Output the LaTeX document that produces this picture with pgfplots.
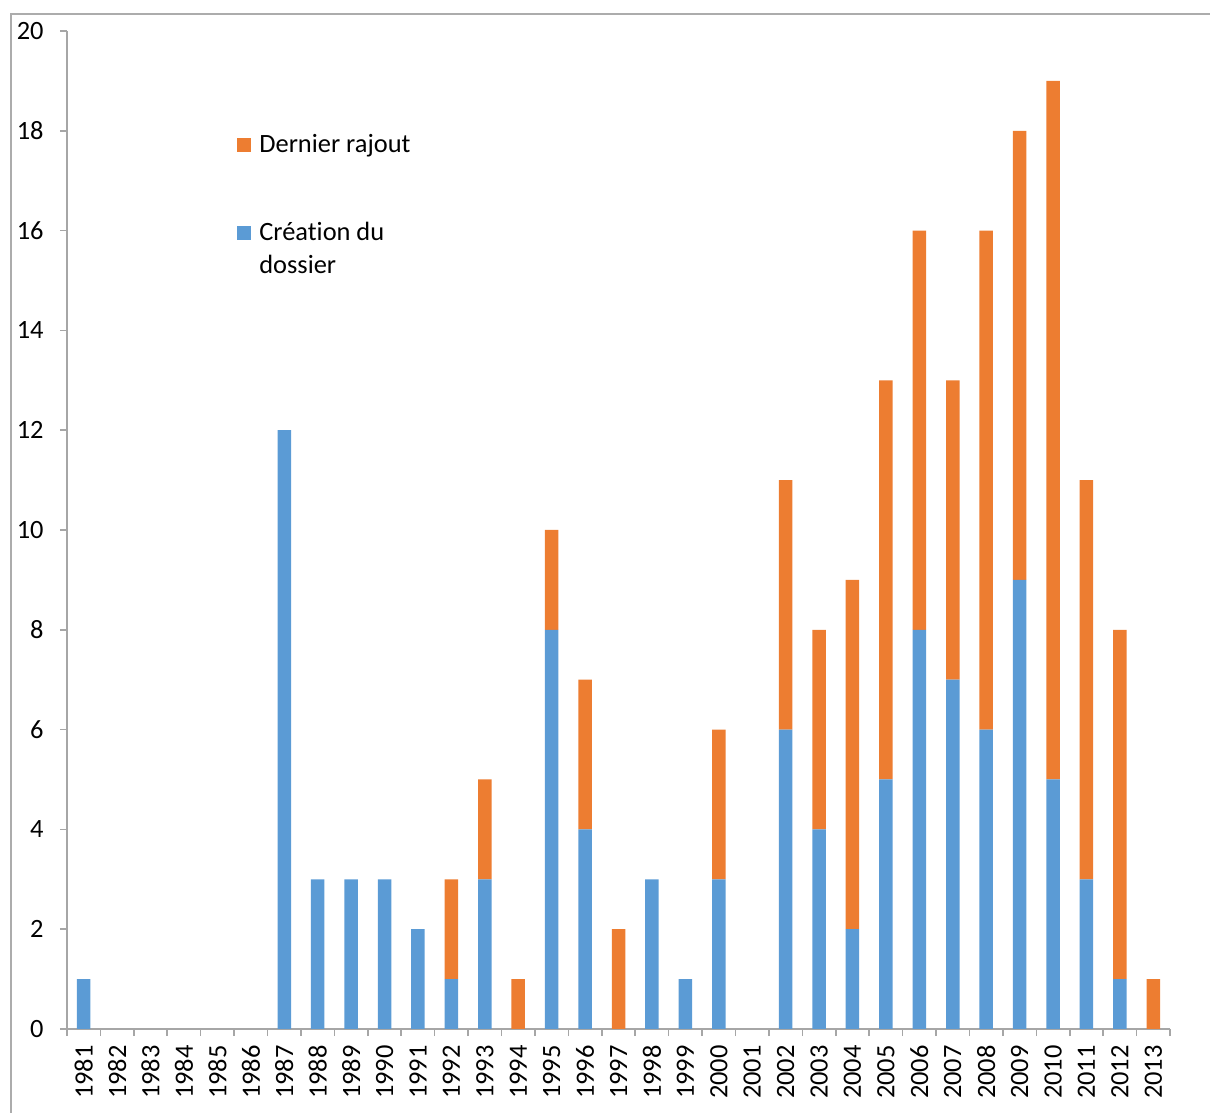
\documentclass[border=0pt]{standalone}
\usepackage{pgfplots}
\pgfplotsset{compat=1.18}
\usepackage{pgfplotstable}
\usepackage{fontspec}
\setmainfont{Carlito}[Ligatures={NoCommon}]

\definecolor{serieblue}{RGB}{91,155,213}
\definecolor{serieorange}{RGB}{237,125,49}
\definecolor{axisgray}{RGB}{166,166,166}
\definecolor{framegray}{RGB}{172,172,172}
\newcommand{\chartfont}{\fontsize{13.2bp}{16.5bp}\selectfont}
\pgfplotsset{sqlegend/.style={legend image code/.code={\fill[##1] (0bp,0bp) rectangle (7bp,7bp);}}}

% idx 0 = 1981 ... 32 = 2013
\pgfplotstableread{
idx blue orange
0  1  0
1  0  0
2  0  0
3  0  0
4  0  0
5  0  0
6  12 0
7  3  0
8  3  0
9  3  0
10 2  0
11 1  2
12 3  2
13 0  1
14 8  2
15 4  3
16 0  2
17 3  0
18 1  0
19 3  3
20 0  0
21 6  5
22 4  4
23 2  7
24 5  8
25 8  8
26 7  6
27 6  10
28 9  9
29 5  14
30 3  8
31 1  7
32 0  1
}\dossiers

\begin{document}
\begin{tikzpicture}
\path[use as bounding box] (0,0) rectangle (605bp,556.5bp);
\draw[framegray, line width=1bp] (5.5bp,0) -- (5.5bp,549.5bp) -- (605bp,549.5bp);
\begin{axis}[
  at={(33.5bp,42bp)}, anchor=south west,
  width=551.5bp, height=499bp, scale only axis,
  ybar stacked, bar width=6.75bp,
  xmin=-0.5, xmax=32.5, ymin=0, ymax=20,
  axis x line*=bottom, axis y line*=left,
  axis line style={axisgray, line width=0.8bp},
  tick style={axisgray, line width=0.8bp},
  tick align=outside, major tick length=3.5bp, minor tick length=3.5bp,
  ytick={0,2,...,20},
  xtick={0,...,32},
  xticklabels={1981,1982,1983,1984,1985,1986,1987,1988,1989,1990,1991,1992,1993,1994,1995,1996,1997,1998,1999,2000,2001,2002,2003,2004,2005,2006,2007,2008,2009,2010,2011,2012,2013},
  minor xtick={-0.5,0.5,...,32.5},
  major x tick style={draw=none},
  /pgf/number format/assume math mode=true,
  tick label style={font=\chartfont, black},
  yticklabel style={anchor=east, inner sep=0pt},
  yticklabel shift=8bp,
  xticklabel style={rotate=90, anchor=east, inner sep=0pt},
  xticklabel shift=4.5bp,
  reverse legend,
  legend style={at={(0.1541,0.8968)}, anchor=north west, draw=none, fill=none,
    inner sep=0pt, font=\chartfont, row sep={44bp,between origins}, column sep=4bp,
    cells={anchor=base west},
    nodes={inner sep=0pt, text height=9bp, text depth=0pt}},
]
\addplot[fill=serieblue, draw=none, sqlegend]
  table[x=idx, y=blue] {\dossiers};
\addlegendentry{\begin{tabular}[t]{@{}l@{}}Création du\\dossier\end{tabular}}
\addplot[fill=serieorange, draw=none, sqlegend]
  table[x=idx, y=orange] {\dossiers};
\addlegendentry{Dernier rajout}
\end{axis}
\end{tikzpicture}
\end{document}
